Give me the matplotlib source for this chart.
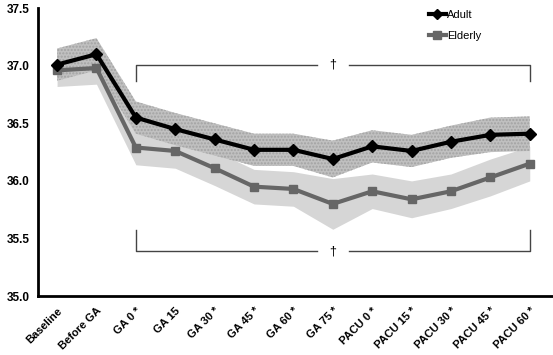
import matplotlib
matplotlib.use('Agg')
import matplotlib.pyplot as plt
import numpy as np

plt.rcParams['font.family'] = ['Liberation Sans', 'DejaVu Sans']

labels = ['Baseline', 'Before GA', 'GA 0 *', 'GA 15', 'GA 30 *', 'GA 45 *', 'GA 60 *',
          'GA 75 *', 'PACU 0 *', 'PACU 15 *', 'PACU 30 *', 'PACU 45 *', 'PACU 60 *']

adult = [37.01, 37.10, 36.55, 36.45, 36.36, 36.27, 36.27, 36.19, 36.30, 36.26, 36.34, 36.40, 36.41]
adult_sd = [0.14, 0.14, 0.14, 0.14, 0.14, 0.14, 0.14, 0.16, 0.14, 0.14, 0.14, 0.15, 0.15]

elderly = [36.96, 36.98, 36.29, 36.26, 36.11, 35.95, 35.93, 35.80, 35.91, 35.84, 35.91, 36.03, 36.15]
elderly_sd = [0.14, 0.14, 0.15, 0.15, 0.15, 0.15, 0.15, 0.22, 0.15, 0.16, 0.15, 0.16, 0.15]


def makePlot():
    fig = plt.figure(figsize=(5.53, 3.55), dpi=100)
    ax = fig.add_axes([0.069, 0.166, 0.931, 0.811])
    xs = np.arange(len(labels))
    a = np.array(adult)
    e = np.array(elderly)
    asd = np.array(adult_sd)
    esd = np.array(elderly_sd)

    ax.fill_between(xs, e - esd, e + esd, color='#d6d6d6', lw=0, zorder=1)
    ax.fill_between(xs, a - asd, a + asd, facecolor='#c0c0c0', edgecolor='#a2a2a2',
                    hatch='.....', lw=0, zorder=2)

    ax.plot(xs, e, color='#666666', lw=3, marker='s', ms=6, label='Elderly', zorder=3)
    ax.plot(xs, a, color='black', lw=3, marker='D', ms=6, label='Adult', zorder=4)

    # significance brackets
    mid = (2 + 12) / 2.0
    for yh, yt in [(37.01, 36.87), (35.39, 35.57)]:
        ax.plot([2, 2, mid - 0.4], [yt, yh, yh], color='#444444', lw=1)
        ax.plot([mid + 0.4, 12, 12], [yh, yh, yt], color='#444444', lw=1)
        ax.text(mid, yh, '\u2020', ha='center', va='center', fontsize=9)

    ax.set_xlim(-0.48, 12.59)
    ax.set_ylim(35.0, 37.5)
    ax.set_yticks([35.0, 35.5, 36.0, 36.5, 37.0, 37.5])
    ax.set_yticklabels(['%.1f' % v for v in [35.0, 35.5, 36.0, 36.5, 37.0, 37.5]],
                       fontsize=8.5, fontweight='bold')
    ax.set_xticks(xs)
    ax.set_xticklabels(labels, rotation=45, ha='right', rotation_mode='anchor',
                       fontsize=8, fontweight='bold')
    ax.tick_params(length=0)
    ax.tick_params(axis='x', pad=7)
    ax.tick_params(axis='y', pad=6)
    for s in ['top', 'right']:
        ax.spines[s].set_visible(False)
    for s in ['left', 'bottom']:
        ax.spines[s].set_linewidth(2)

    h, l = ax.get_legend_handles_labels()
    ax.legend(h[::-1], l[::-1], loc='upper left', bbox_to_anchor=(0.74, 1.03), frameon=False,
              fontsize=8, handlelength=1.5, handletextpad=0.1, labelspacing=1.0, markerscale=0.9)

    plt.savefig('out.png', dpi=100)


if __name__ == "__main__":
    makePlot()
